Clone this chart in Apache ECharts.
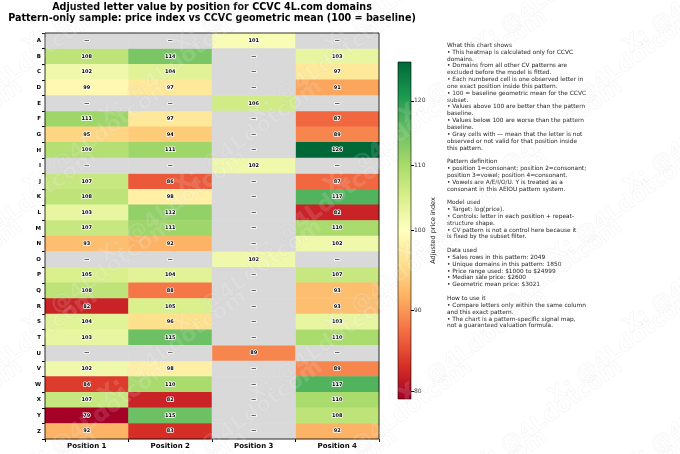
<!DOCTYPE html>
<html>
<head>
<meta charset="utf-8">
<script src="https://cdn.jsdelivr.net/npm/echarts@6/dist/echarts.min.js"></script>
<style>html,body{margin:0;padding:0;background:#fff;}#c{width:680px;height:454px;}</style>
</head>
<body>
<div id="c"></div>
<script>
const letters = ['A','B','C','D','E','F','G','H','I','J','K','L','M','N','O','P','Q','R','S','T','U','V','W','X','Y','Z'];
const positions = ['Position 1','Position 2','Position 3','Position 4'];
const pos1 = [null,108,102,99,null,111,95,109,null,107,108,103,107,93,null,105,108,82,104,103,null,102,84,107,79,92];
const pos2 = [null,114,104,97,null,97,94,111,null,86,98,112,111,92,null,104,88,105,96,115,null,98,110,82,115,83];
const pos3 = [101,null,null,null,106,null,null,null,102,null,null,null,null,null,102,null,null,null,null,null,89,null,null,null,null,null];
const pos4 = [null,103,97,91,null,87,89,126,null,87,117,82,110,102,null,107,93,93,103,110,null,89,117,110,108,92];
const cbTicks = [80,90,100,110,120];
const center = 100;
const rdylgn = ['#a50026','#d73027','#f46d43','#fdae61','#fee08b','#ffffbf','#d9ef8b','#a6d96a','#66bd63','#1a9850','#006837'];

const cols = [pos1,pos2,pos3,pos4];
const allVals = cols.flat().filter(v => v !== null);
const vmin = Math.min(...allVals), vmax = Math.max(...allVals);
function norm(v){ return v < center ? 0.5*(v-vmin)/(center-vmin) : 0.5 + 0.5*(v-center)/(vmax-center); }

const valData = [], grayData = [];
cols.forEach((arr, c) => arr.forEach((v, r) => {
  if (v === null) grayData.push([c, r, 0]);
  else valData.push([c, r, v, norm(v)]);
}));

const textLines = [
'What this chart shows',
'• This heatmap is calculated only for CCVC',
'domains.',
'• Domains from all other CV patterns are',
'excluded before the model is fitted.',
'• Each numbered cell is one observed letter in',
'one exact position inside this pattern.',
'• 100 = baseline geometric mean for the CCVC',
'subset.',
'• Values above 100 are better than the pattern',
'baseline.',
'• Values below 100 are worse than the pattern',
'baseline.',
'• Gray cells with — mean that the letter is not',
'observed or not valid for that position inside',
'this pattern.',
'',
'Pattern definition',
'• position 1=consonant; position 2=consonant;',
'position 3=vowel; position 4=consonant.',
'• Vowels are A/E/I/O/U. Y is treated as a',
'consonant in this AEIOU pattern system.',
'',
'Model used',
'• Target: log(price).',
'• Controls: letter in each position + repeat-',
'structure shape.',
'• CV pattern is not a control here because it',
'is fixed by the subset filter.',
'',
'Data used',
'• Sales rows in this pattern: 2049',
'• Unique domains in this pattern: 1850',
'• Price range used: $1000 to $24999',
'• Median sale price: $2600',
'• Geometric mean price: $3021',
'',
'How to use it',
'• Compare letters only within the same column',
'and this exact pattern.',
'• The chart is a pattern-specific signal map,',
'not a guaranteed valuation formula.'
];

const FONT = 'DejaVu Sans';
const chart = echarts.init(document.getElementById('c'), null, {renderer:'canvas'});

const wm = [];
for (let i = -1; i < 6; i++) {
  for (let j = -1; j < 8; j++) {
    wm.push({
      type:'text', x: i*150 + (j%2)*75 + 20, y: j*70 + 40, rotation: Math.PI/5, z: 100, silent: true,
      style:{ text:'X: @4Ldotcom', font:'bold 22px ' + FONT, fill:'rgba(255,255,255,0.12)', stroke:'rgba(170,170,170,0.12)', lineWidth:0.7 }
    });
  }
}

const option = {
  backgroundColor:'#fff',
  animation:false,
  textStyle:{fontFamily:FONT},
  graphic:[
    {type:'text', x:212, y:2.5, style:{text:'Adjusted letter value by position for CCVC 4L.com domains', font:'bold 9.6px '+FONT, fill:'#000', align:'center'}},
    {type:'text', x:212, y:13.5, style:{text:'Pattern-only sample: price index vs CCVC geometric mean (100 = baseline)', font:'bold 9.6px '+FONT, fill:'#000', align:'center'}},
    {type:'text', x:447, y:42, style:{text:textLines.join('\n'), font:'5.85px '+FONT, lineHeight:6.84, fill:'#222'}},
    ...wm
  ],
  grid:[
    {left:45, top:33, width:334, height:406},
    {left:398, top:62, width:13, height:337}
  ],
  xAxis:[
    {gridIndex:0, type:'category', data:positions, position:'bottom',
     axisLine:{show:false}, axisTick:{show:true, length:3, lineStyle:{color:'#000'}},
     axisLabel:{fontSize:7, fontWeight:'bold', color:'#000', margin:4}, splitLine:{show:false}},
    {gridIndex:1, type:'category', data:['cb'], show:false}
  ],
  yAxis:[
    {gridIndex:0, type:'category', data:letters, inverse:true,
     axisLine:{show:false}, axisTick:{show:true, length:3, lineStyle:{color:'#000'}},
     axisLabel:{fontSize:5.5, fontWeight:'bold', color:'#000', margin:4}, splitLine:{show:false}},
    {gridIndex:1, type:'value', min:0, max:1, position:'right',
     axisLine:{show:false}, splitLine:{show:false},
     axisTick:{show:true, length:3, customValues:cbTicks.map(norm), lineStyle:{color:'#000'}},
     axisLabel:{fontSize:6, color:'#333', margin:3, customValues:cbTicks.map(norm),
       formatter:function(v){ let best=cbTicks[0]; cbTicks.forEach(t=>{ if(Math.abs(norm(t)-v)<Math.abs(norm(best)-v)) best=t; }); return String(best); }},
     name:'Adjusted price index', nameLocation:'middle', nameRotate:90, nameGap:19,
     nameTextStyle:{fontSize:6.5, color:'#222'}}
  ],
  visualMap:{type:'continuous', show:false, seriesIndex:0, dimension:3, min:0, max:1, inRange:{color:rdylgn}},
  series:[
    {type:'heatmap', xAxisIndex:0, yAxisIndex:0, data:valData, z:2,
     itemStyle:{borderWidth:0},
     label:{show:true, formatter:p=>String(Math.round(p.value[2])), fontSize:5, fontWeight:'bold', color:'#000', textBorderColor:'#fff', textBorderWidth:1.5}},
    {type:'heatmap', xAxisIndex:0, yAxisIndex:0, data:grayData, z:2,
     itemStyle:{color:'#d9d9d9', borderWidth:0},
     label:{show:true, formatter:()=> '—', fontSize:5, fontWeight:'bold', color:'#000', textBorderColor:'#fff', textBorderWidth:1.5}},
    {type:'custom', xAxisIndex:1, yAxisIndex:1, data:[[0,0]], z:2,
     renderItem:function(params, api){
       const top = api.coord([0,1]); const bot = api.coord([0,0]); const w = api.size([1,0])[0];
       const stops = rdylgn.slice().reverse().map((c,i)=>({offset:i/(rdylgn.length-1), color:c}));
       return {type:'rect', shape:{x:top[0]-w/2, y:top[1], width:w, height:bot[1]-top[1]},
         style:{fill:new echarts.graphic.LinearGradient(0,0,0,1,stops), stroke:'#000', lineWidth:0.6}};
     }},
    {type:'custom', xAxisIndex:0, yAxisIndex:0, data:[[0,0]], z:5, silent:true,
     renderItem:function(params, api){
       const cs = params.coordSys;
       return {type:'rect', shape:{x:cs.x, y:cs.y, width:cs.width, height:cs.height}, style:{fill:'none', stroke:'#000', lineWidth:0.8}};
     }}
  ]
};
chart.setOption(option);
</script>
</body>
</html>
